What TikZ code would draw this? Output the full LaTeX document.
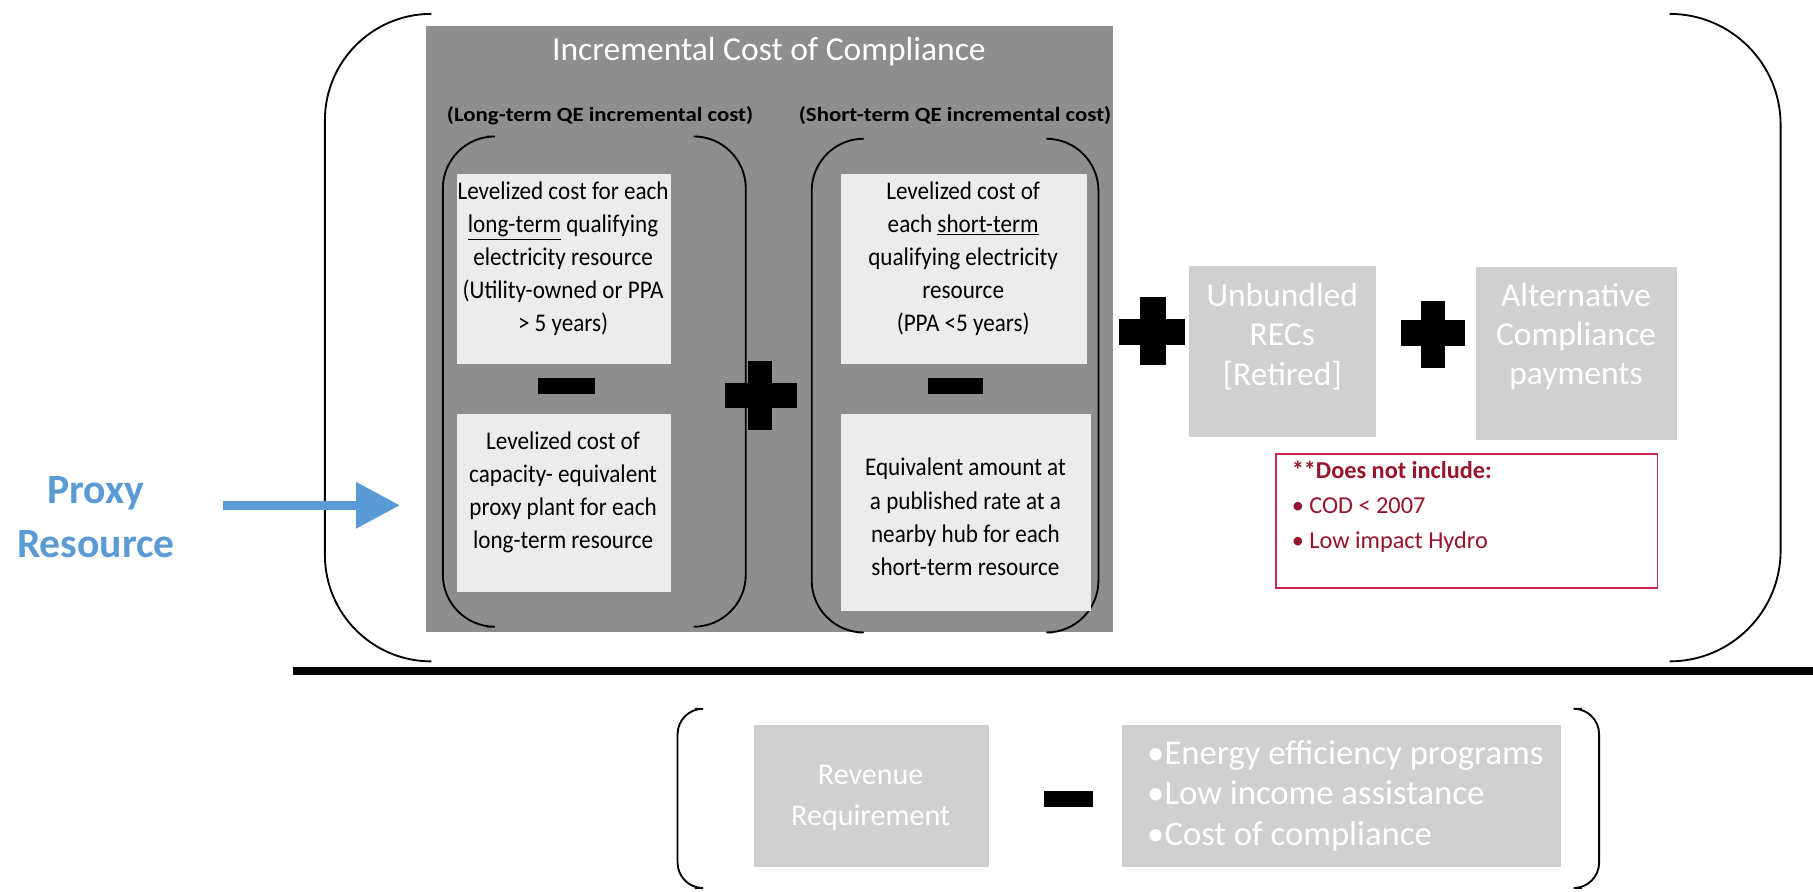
\documentclass[tikz,border=0pt]{standalone}
\usepackage{fontspec}
\setmainfont{Carlito}
\usetikzlibrary{arrows.meta}
\definecolor{panelgray}{RGB}{142,142,142}
\definecolor{lightbox}{RGB}{236,236,236}
\definecolor{palebox}{RGB}{208,208,208}
\definecolor{proxyblue}{RGB}{91,155,213}
\definecolor{noteborder}{RGB}{200,40,75}
\definecolor{notetext}{RGB}{150,20,45}
\begin{document}
\begin{tikzpicture}[x=1pt,y=-1pt,
  brk/.style={line width=1.6pt, black, rounded corners=#1},
  brk/.default=45pt,
  lbox/.style={fill=lightbox, draw=none},
  pbox/.style={fill=palebox, draw=none},
  bodytext/.style={align=center, inner sep=0pt, text=black, yscale=1.1, font=\fontsize{20}{26}\selectfont},
  paletext/.style={align=center, inner sep=0pt, text=white, font=\fontsize{29}{34}\selectfont},
  optext/.style={fill=black, draw=none},
]
\useasboundingbox (0,0) rectangle (1568,771);
\fill[white] (0,0) rectangle (1568,771);

% outer brackets
\draw[brk=92pt] (373,12) -- (281,12) -- (281,572) -- (373,572);
\draw[brk=96pt] (1444,12) -- (1540,12) -- (1540,572) -- (1444,572);
\draw[line width=7pt] (253,580) -- (1568,580);

% gray panel
\node[fill=panelgray, draw=none, minimum width=594pt, minimum height=524pt, anchor=north west, inner sep=0pt] (panel) at (368,22) {};
\node[text=white, font=\fontsize{29}{34}\selectfont, inner sep=0pt] (title) at (665,45) {Incremental Cost of Compliance};
\node[font=\bfseries\fontsize{17.5}{20}\selectfont, xscale=1.13, inner sep=0pt] (subL) at (519,100) {(Long-term QE incremental cost)};
\node[font=\bfseries\fontsize{17.5}{20}\selectfont, xscale=1.13, inner sep=0pt] (subR) at (826,100) {(Short-term QE incremental cost)};

% inner brackets
\draw[brk] (421,118) -- (383,118) -- (383,542) -- (421,542);
\draw[brk] (603,118) -- (645,118) -- (645,542) -- (603,542);
\draw[brk] (742,120) -- (702,120) -- (702,547) -- (742,547);
\draw[brk] (910,120) -- (950,120) -- (950,547) -- (910,547);

% light boxes
\node[lbox, minimum width=185pt, minimum height=165pt, anchor=north west] (ltbox) at (395,150) {};
\node[bodytext] (lttext) at (487,224) {Levelized cost for each\\\underline{long-term} qualifying\\electricity resource\\(Utility-owned or PPA\\> 5 years)};
\node[lbox, minimum width=185pt, minimum height=154pt, anchor=north west] (lbbox) at (395,358) {};
\node[bodytext] (lbtext) at (487,426) {Levelized cost of\\capacity- equivalent\\proxy plant for each\\long-term resource};
\node[lbox, minimum width=213pt, minimum height=165pt, anchor=north west] (rtbox) at (727,150) {};
\node[bodytext] (rttext) at (833,224) {Levelized cost of\\each \underline{short-term}\\qualifying electricity\\resource\\(PPA <5 years)};
\node[lbox, minimum width=216pt, minimum height=170pt, anchor=north west] (rbbox) at (727,358) {};
\node[bodytext] (rbtext) at (835,447) {Equivalent amount at\\a published rate at a\\nearby hub for each\\short-term resource};

% operators
\fill[optext] (465,327) rectangle (515,341);
\fill[optext] (803,327) rectangle (850,341);
\fill[optext] (647,312) rectangle (668,372);
\fill[optext] (627,331) rectangle (689,353);
\fill[optext] (986,257) rectangle (1008,316);
\fill[optext] (968,276) rectangle (1025,298);
\fill[optext] (1229,260) rectangle (1250,318);
\fill[optext] (1212,277) rectangle (1267,299);

% pale boxes
\node[pbox, minimum width=162pt, minimum height=148pt, anchor=north west] (recbox) at (1028,230) {};
\node[paletext] (rectext) at (1109,291) {Unbundled\\RECs\\{[Retired]}};
\node[pbox, minimum width=174pt, minimum height=149pt, anchor=north west] (acpbox) at (1276,231) {};
\node[paletext] (acptext) at (1363,291) {Alternative\\Compliance\\payments};

% note box
\node[draw=noteborder, line width=1.2pt, minimum width=330pt, minimum height=116pt, anchor=north west] (note) at (1103,392) {};
\node[anchor=north west, align=left, inner sep=0pt, text=notetext, font=\fontsize{21}{30}\selectfont] (notetext) at (1117,399) {\textbf{**Does not include:}\\• COD < 2007\\• Low impact Hydro};

% proxy
\node[text=proxyblue, font=\bfseries\fontsize{36}{47}\selectfont, align=center, inner sep=0pt] (proxy) at (83,447) {Proxy\\Resource};
\coordinate (arrS) at (193,437);
\coordinate (arrE) at (346,437);
\draw[proxyblue, line width=8pt, -{Triangle[length=38pt,width=38pt]}] (arrS) -- (arrE);

% lower part
\draw[brk=22pt] (601,613) -- (586,613) -- (586,768) -- (601,768);
\draw[brk=22pt] (1368,613) -- (1383,613) -- (1383,768) -- (1368,768);
\node[pbox, minimum width=203pt, minimum height=123pt, anchor=north west] (revbox) at (652,627) {};
\node[paletext, font=\fontsize{26}{36}\selectfont] (revtext) at (753,690) {Revenue\\Requirement};
\fill[optext] (903,684) rectangle (945,698);
\node[pbox, minimum width=380pt, minimum height=123pt, anchor=north west] (lessbox) at (970,627) {};
\node[paletext, anchor=west, align=left, font=\fontsize{30}{35}\selectfont] (lesstext) at (992,688) {•Energy efficiency programs\\•Low income assistance\\•Cost of compliance};
\end{tikzpicture}
\end{document}
